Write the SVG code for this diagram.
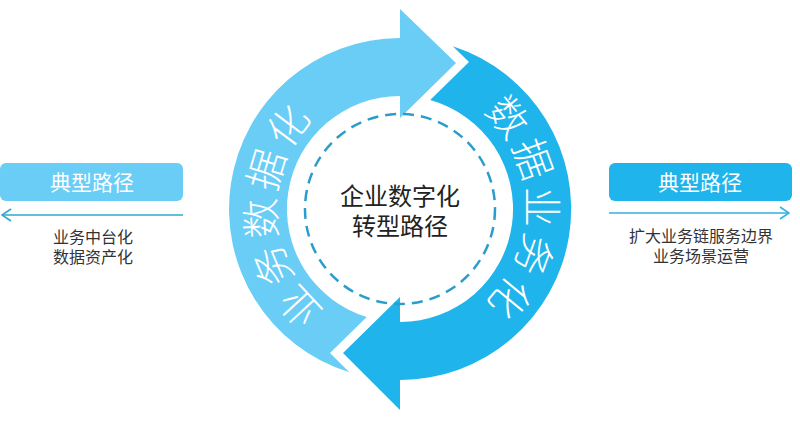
<svg xmlns="http://www.w3.org/2000/svg" width="800" height="421" viewBox="0 0 800 421">
<defs>
<style>
.cjk{font-family:"Noto Sans CJK SC","Noto Sans",sans-serif;}
.ring{fill:#ffffff;font-size:40px;font-weight:300;letter-spacing:4px;}
.boxt{fill:#ffffff;font-size:21px;text-anchor:middle;}
.desc{fill:#333333;font-size:16px;text-anchor:middle;}
.center{fill:#222222;font-size:24px;text-anchor:middle;}
</style>
<path id="arcL" d="M406.7,335.8 A127,127 0 0 1 393.4,82.2"/>
<path id="arcR" d="M400,82 A127,127 0 0 1 400,336"/>
<marker id="chev" viewBox="0 0 12 14" refX="11" refY="7" markerWidth="12" markerHeight="14" markerUnits="userSpaceOnUse" orient="auto">
<path d="M2,1 L11,7 L2,13" fill="none" stroke="context-stroke" stroke-width="1.6"/>
</marker>
</defs>
<rect width="800" height="421" fill="#ffffff"/>

<g id="arrow-light">
<path d="M366.7,317 L330,353 L349.3,372.3 A171,171 0 0 1 400,38 L400,9 L456,63 L400,118 L400,96 A113,113 0 0 0 366.7,317 Z" fill="#6ACDF6"/>
<text class="cjk ring" text-anchor="middle"><textPath href="#arcL" startOffset="50%">业务数据化</textPath></text>
</g>

<g id="arrow-dark">
<path d="M452.8,46.3 L469,62 L430.2,100.1 A113,113 0 0 1 400,322 L400,297 L343,353 L400,410 L400,380 A171,171 0 0 0 452.8,46.3 Z" fill="#1FB4EB"/>
<text class="cjk ring" text-anchor="middle"><textPath href="#arcR" startOffset="50%">数据业务化</textPath></text>
</g>

<g id="center">
<circle cx="400" cy="209" r="95" fill="none" stroke="#2A9DCB" stroke-width="2.5" stroke-dasharray="11 7"/>
<text class="cjk center" x="400" y="205">企业数字化</text>
<text class="cjk center" x="400" y="235">转型路径</text>
</g>

<g id="left-path">
<rect x="0" y="163" width="183" height="38" rx="6" fill="#6ACDF6"/>
<text class="cjk boxt" x="92" y="190">典型路径</text>
<text class="cjk desc" x="93" y="243">业务中台化</text>
<text class="cjk desc" x="93" y="263">数据资产化</text>
</g>

<g id="right-path">
<rect x="609" y="163" width="183" height="38" rx="6" fill="#1FB4EB"/>
<text class="cjk boxt" x="700" y="190">典型路径</text>
<text class="cjk desc" x="701" y="242">扩大业务链服务边界</text>
<text class="cjk desc" x="701" y="262">业务场景运营</text>
</g>

<g id="connectors">
<line x1="183" y1="215" x2="2" y2="215" stroke="#2FA8CC" stroke-width="1.6" marker-end="url(#chev)"/>
<line x1="609" y1="213" x2="789" y2="213" stroke="#35B1E2" stroke-width="1.6" marker-end="url(#chev)"/>
</g>
</svg>
